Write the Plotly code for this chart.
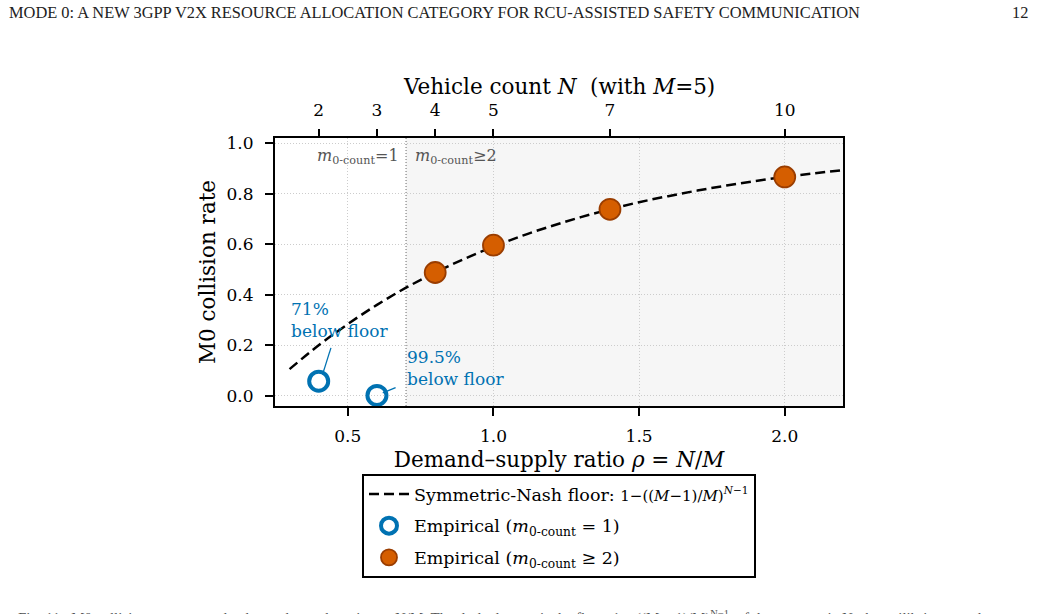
import plotly.graph_objects as go

# ---- data ----
M = 5
top_ticks_N = [2, 3, 4, 5, 7, 10]
top_tick_rho = [0.4, 0.6, 0.8, 1.0, 1.4, 2.0]

floor_rho = [0.3, 0.4, 0.5, 0.6, 0.7, 0.8, 0.9, 1.0, 1.1, 1.2, 1.3, 1.4, 1.5,
             1.6, 1.7, 1.8, 1.9, 2.0, 2.1, 2.2]
floor_val = [0.106, 0.200, 0.284, 0.360, 0.428, 0.488, 0.542, 0.590, 0.634,
             0.672, 0.707, 0.738, 0.766, 0.790, 0.812, 0.832, 0.850, 0.866,
             0.880, 0.893]

emp1_rho = [0.4, 0.6]
emp1_val = [0.058, 0.002]
emp1_notes = ["71%<br>below floor", "99.5%<br>below floor"]

emp2_rho = [0.8, 1.0, 1.4, 2.0]
emp2_val = [0.488, 0.596, 0.738, 0.866]

x_ticks = [0.5, 1.0, 1.5, 2.0]
y_ticks = [0.0, 0.2, 0.4, 0.6, 0.8, 1.0]
regime_split = 0.7

SERIF = "DejaVu Serif"
BLUE = "#0072B2"
ORANGE = "#D55E00"

# plot area in pixels (for placing page-level text)
L, R, T, B = 275, 843, 138, 406
PW, PH = R - L, B - T


def px(xp):
    return (xp - L) / PW


def py(yp):
    return (B - yp) / PH


fig = go.Figure()

fig.add_trace(go.Scatter(
    x=floor_rho, y=floor_val, mode="lines", line_shape="spline",
    line=dict(color="black", width=2.5, dash="10px,5px"),
    legendgroup="a",
    name="Symmetric-Nash floor: <span style=\"font-size:15px\">1−((<i>M</i>−1)/<i>M</i>)<sup><i>N</i>−1</sup></span>",
))
fig.add_trace(go.Scatter(
    x=emp1_rho, y=emp1_val, mode="markers",
    marker=dict(symbol="circle-open", size=19, color=BLUE, line=dict(width=4, color=BLUE)),
    legendgroup="b",
    name="Empirical (<i>m</i><sub>0-count</sub> = 1)",
))
fig.add_trace(go.Scatter(
    x=emp2_rho, y=emp2_val, mode="markers",
    marker=dict(symbol="circle", size=21, color=ORANGE, line=dict(width=1.8, color="#9a3d00")),
    legendgroup="c",
    name="Empirical (<i>m</i><sub>0-count</sub> ≥ 2)",
))
# invisible trace on top axis
fig.add_trace(go.Scatter(x=top_tick_rho, y=[None] * len(top_tick_rho), xaxis="x2",
                         showlegend=False, hoverinfo="skip", mode="markers"))

xr = [0.25, 2.2]
yr = [-0.04, 1.02]

common_ticks = dict(ticks="outside", ticklen=8, tickwidth=1.6, tickcolor="black",
                    zeroline=False, tickfont=dict(size=17))

fig.update_layout(
    width=1041, height=614,
    margin=dict(l=L, r=1041 - R, t=T, b=614 - B),
    paper_bgcolor="white", plot_bgcolor="white",
    font=dict(family=SERIF, size=17, color="black"),
    xaxis=dict(range=xr, tickvals=x_ticks, ticktext=["0.5", "1.0", "1.5", "2.0"],
               showgrid=True, gridcolor="#cccccc", griddash="1px,2px", gridwidth=1,
               showline=True, linecolor="black", linewidth=2, mirror=True,
               ticklabelstandoff=6,
               title=dict(text="Demand–supply ratio <i>ρ</i> = <i>N</i>/<i>M</i>",
                          font=dict(size=21.5), standoff=7),
               **common_ticks),
    xaxis2=dict(range=xr, overlaying="x", side="top", tickvals=top_tick_rho,
                ticktext=[str(n) for n in top_ticks_N], showgrid=False,
                ticklabelstandoff=6, **common_ticks),
    yaxis=dict(range=yr, tickvals=y_ticks, ticktext=[f"{v:.1f}" for v in y_ticks],
               showgrid=True, gridcolor="#cccccc", griddash="1px,2px", gridwidth=1,
               showline=True, linecolor="black", linewidth=2, mirror=True,
               ticklabelstandoff=8,
               title=dict(text="M0 collision rate", font=dict(size=21.5), standoff=5),
               **common_ticks),
    legend=dict(x=px(362), y=py(474), xanchor="left", yanchor="top",
                bordercolor="black", borderwidth=2, bgcolor="white",
                font=dict(family=SERIF, size=17.5), tracegroupgap=6,
                itemwidth=40),
    showlegend=True,
)

# top-axis title
fig.add_annotation(x=0.5, y=py(87), xref="paper", yref="paper", showarrow=False,
                   xanchor="center", yanchor="middle",
                   text="Vehicle count <i>N</i>  (with <i>M</i>=5)", font=dict(size=21.5))

# shaded regime m0-count >= 2
fig.add_shape(type="rect", xref="x", yref="paper", x0=regime_split, x1=xr[1], y0=0, y1=1,
              fillcolor="#f6f6f6", line_width=0, layer="below")
fig.add_shape(type="line", xref="x", yref="paper", x0=regime_split, x1=regime_split, y0=0, y1=1,
              line=dict(color="#999999", width=1.5, dash="1px,2px"), layer="below")

fig.add_annotation(x=regime_split - 0.018, y=0.945, xref="x", yref="y", showarrow=False,
                   xanchor="right", yanchor="middle",
                   text="<i>m</i><sub>0-count</sub>=1", font=dict(size=16, color="#555555"))
fig.add_annotation(x=regime_split + 0.025, y=0.945, xref="x", yref="y", showarrow=False,
                   xanchor="left", yanchor="middle",
                   text="<i>m</i><sub>0-count</sub>≥2", font=dict(size=16, color="#555555"))

# notes for the m0-count=1 points
note_pos = [(emp1_rho[0] - 0.102, 0.39), (emp1_rho[1] + 0.097, 0.2)]
conn = [((emp1_rho[0] + 0.042, 0.19), (emp1_rho[0] + 0.013, emp1_val[0] + 0.026)),
        ((emp1_rho[1] + 0.064, emp1_val[1] + 0.031), (emp1_rho[1] + 0.02, emp1_val[1] + 0.01))]
for (tx, ty), note, ((x0, y0), (x1, y1)) in zip(note_pos, emp1_notes, conn):
    fig.add_annotation(x=tx, y=ty, xref="x", yref="y", showarrow=False, xanchor="left",
                       yanchor="top", align="left", text=note,
                       font=dict(size=17, color=BLUE))
    fig.add_shape(type="line", xref="x", yref="y", x0=x0, y0=y0, x1=x1, y1=y1,
                  line=dict(color=BLUE, width=1.3))

# page header and clipped caption
fig.add_annotation(x=px(7), y=py(13), xref="paper", yref="paper", showarrow=False,
                   xanchor="left", yanchor="middle",
                   text="MODE 0: A NEW 3GPP V2X RESOURCE ALLOCATION CATEGORY FOR RCU-ASSISTED SAFETY COMMUNICATION",
                   font=dict(family="Liberation Serif", size=16.4, color="#222222"))
fig.add_annotation(x=px(1030), y=py(13), xref="paper", yref="paper",
                   showarrow=False, xanchor="right", yanchor="middle", text="12",
                   font=dict(family="Liberation Serif", size=16.4, color="#222222"))
fig.add_annotation(x=px(16), y=py(606), xref="paper", yref="paper",
                   showarrow=False, xanchor="left", yanchor="top",
                   text="Fig. 11.  M0 collision rate versus the demand–supply ratio ρ = N/M. The dashed curve is the floor  1 − ((M − 1)/M)<sup>N−1</sup>  of the symmetric Nash equilibrium; markers are",
                   font=dict(family="Liberation Serif", size=15, color="#555555"))

fig.write_html("out.html")
